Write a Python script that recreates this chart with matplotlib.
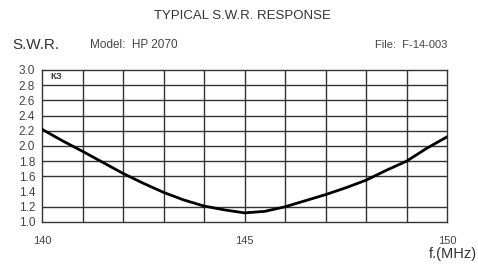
import matplotlib
matplotlib.use("Agg")
import matplotlib.pyplot as plt

# frequency (MHz) and SWR
freq = [140, 140.5, 141, 142, 142.5, 143, 143.5, 144, 144.5, 145, 145.5, 146,
        147, 147.5, 148, 148.5, 149, 149.5, 150]
swr = [2.22, 2.07, 1.93, 1.64, 1.51, 1.39, 1.29, 1.21, 1.16, 1.12, 1.14, 1.20,
       1.36, 1.45, 1.55, 1.68, 1.80, 1.97, 2.12]

y_ticks = [1.0, 1.2, 1.4, 1.6, 1.8, 2.0, 2.2, 2.4, 2.6, 2.8, 3.0]
y_grid = [1.2, 1.6, 1.8, 2.0, 2.2, 2.4, 2.6, 2.8]
x_grid = list(range(141, 150))
x_ticks = [140, 145, 150]

plt.rcParams['font.family'] = ['Liberation Sans', 'DejaVu Sans']
ink = "#333333"

fig = plt.figure(figsize=(4.78, 2.64), dpi=100)
ax = fig.add_axes([42 / 478, 1 - 222 / 264, 405 / 478, 152 / 264])

for x in x_grid:
    ax.axvline(x, color=ink, lw=1.0, zorder=1)
for y in y_grid:
    ax.axhline(y, color=ink, lw=1.0, zorder=1)

ax.plot(freq, swr, color="black", lw=2.0, zorder=3)

ax.set_xlim(140, 150)
ax.set_ylim(1.0, 3.0)
for s in ax.spines.values():
    s.set_color(ink)
    s.set_linewidth(1.0)

ax.set_yticks(y_ticks)
ax.set_yticklabels([f"{v:.1f}" for v in y_ticks], fontsize=8.5, color="#444444")
ax.set_xticks(x_ticks)
ax.set_xticklabels([str(v) for v in x_ticks], fontsize=8, color="#444444")
ax.tick_params(axis='y', length=0, pad=5)
ax.tick_params(axis='x', length=0, pad=10)

ax.text(140.2, 2.92, "КЗ", fontsize=6.5, fontweight="bold", va="center", color=ink)

fig.text(242 / 478, 1 - 16 / 264, "TYPICAL S.W.R. RESPONSE", ha="center",
         va="center", fontsize=9.5, color=ink)
fig.text(12 / 478, 1 - 45 / 264, "S.W.R.", ha="left", va="center",
         fontsize=11, color=ink)
fig.text(90 / 478, 1 - 45 / 264, "Model:  HP 2070", ha="left", va="center",
         fontsize=8.5, color="#444444")
fig.text(447 / 478, 1 - 45 / 264, "File:  F-14-003", ha="right", va="center",
         fontsize=8, color="#444444")
fig.text(477 / 478, 1 - 254 / 264, "f.(MHz)", ha="right", va="center",
         fontsize=10.5, color=ink)

fig.savefig("out.png", dpi=100)
